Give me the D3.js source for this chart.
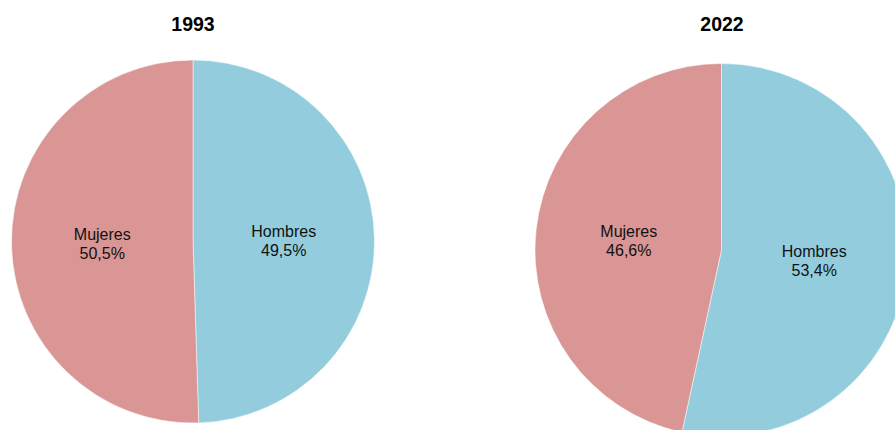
<!DOCTYPE html>
<html>
<head>
<meta charset="utf-8">
<script src="https://cdn.jsdelivr.net/npm/d3@7"></script>
<style>
  html, body { margin: 0; padding: 0; background: #fff; }
  svg { display: block; }
</style>
</head>
<body>
<svg id="chart" width="895" height="430"></svg>
<script>
const years = ["1993", "2022"];
const categories = ["Hombres", "Mujeres"];
const values1993 = [49.5, 50.5];
const values2022 = [53.4, 46.6];
const colors = ["#93CDDD", "#D99694"];

const svg = d3.select("#chart");
const color = d3.scaleOrdinal().domain(categories).range(colors);
const fmt = v => d3.format(".1f")(v).replace(".", ",") + "%";

const pies = [
  { year: years[0], values: values1993, cx: 193, cy: 241.5, r: 181.5, titleX: 193 },
  { year: years[1], values: values2022, cx: 721.5, cy: 250, r: 186.5, titleX: 722 }
];

const pie = d3.pie().sort(null).value(d => d.value);

pies.forEach(p => {
  const data = categories.map((c, i) => ({ cat: c, value: p.values[i] }));
  const arcs = pie(data);
  const arc = d3.arc().innerRadius(0).outerRadius(p.r);
  const g = svg.append("g").attr("transform", `translate(${p.cx},${p.cy})`);
  g.selectAll("path").data(arcs).join("path")
    .attr("d", arc)
    .attr("fill", d => color(d.data.cat))
    .attr("stroke", "#fff")
    .attr("stroke-width", 0.5);

  const lab = g.selectAll("text.lab").data(arcs).join("text")
    .attr("class", "lab")
    .attr("font-family", "Liberation Sans, Arial, sans-serif")
    .attr("font-size", 16)
    .attr("fill", "#111")
    .attr("text-anchor", "middle")
    .attr("transform", d => { const c = arc.centroid(d); return `translate(${c[0]},${c[1]})`; });
  lab.append("tspan").attr("x", 0).attr("y", -3).text(d => d.data.cat);
  lab.append("tspan").attr("x", 0).attr("y", 16).text(d => fmt(d.data.value));

  svg.append("text")
    .attr("x", p.titleX).attr("y", 31)
    .attr("text-anchor", "middle")
    .attr("font-family", "Liberation Sans, Arial, sans-serif")
    .attr("font-weight", "bold")
    .attr("font-size", 19.5)
    .attr("fill", "#000")
    .text(p.year);
});
</script>
</body>
</html>
